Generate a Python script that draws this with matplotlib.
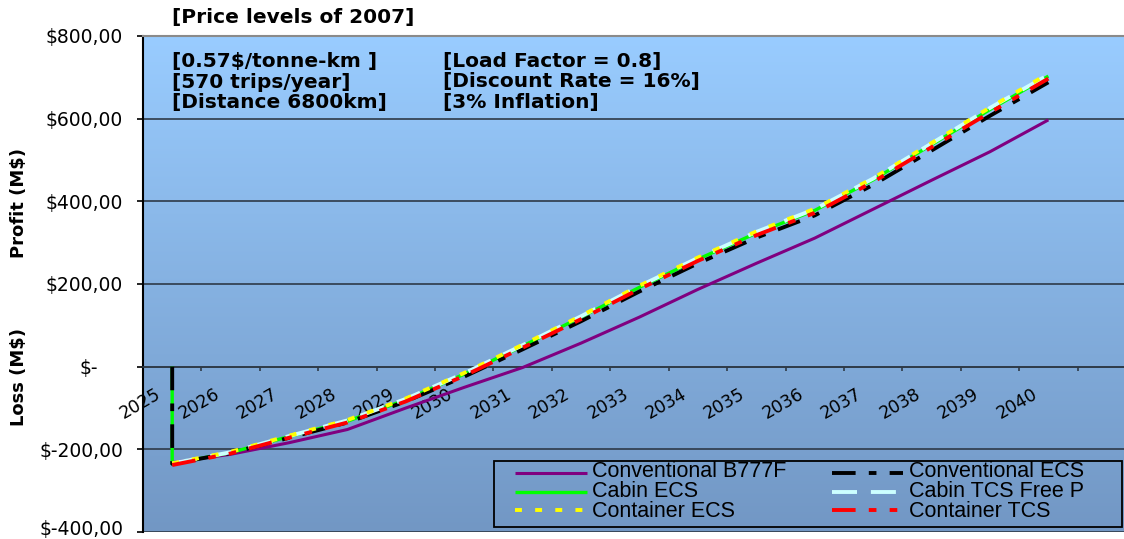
import matplotlib
matplotlib.use("Agg")
import matplotlib.pyplot as plt
import numpy as np
from matplotlib.transforms import ScaledTranslation
from matplotlib.lines import Line2D
from matplotlib.patches import Rectangle

# ---------------- data ----------------
years = [2025, 2026, 2027, 2028, 2029, 2030, 2031, 2032, 2033, 2034, 2035,
         2036, 2037, 2038, 2039, 2040]
year_labels = [str(y) for y in years]

# Conventional B777F (purple)
conventional_b777f = [-232, -212, -184, -152, -100, -50, -2, 57, 120, 187, 250,
                      311, 381, 451, 520, 597]
# series that open with a drop from $- to the first-year loss in 2025
open_year = 2025
conventional_ecs_open = 0
cabin_ecs_open = 0
conventional_ecs = [-235, -209, -172, -135, -84, -24, 42, 110, 182, 250, 312,
                    366, 440, 523, 607, 688]
cabin_ecs = [-235, -208, -169, -132, -80, -18, 50, 120, 192, 260, 323,
             378, 452, 537, 622, 703]
cabin_tcs_free_p = [-234, -207, -168, -130, -78, -16, 52, 122, 195, 263, 326,
                    381, 455, 540, 626, 706]
container_ecs = [-234, -206, -167, -129, -77, -15, 53, 123, 196, 264, 327,
                 382, 456, 541, 627, 709]
container_tcs = [-238, -210, -172, -135, -84, -22, 46, 115, 188, 256, 318,
                 372, 447, 531, 615, 697]

y_ticks = [-400, -200, 0, 200, 400, 600, 800]
y_tick_labels = ["$-400,00", "$-200,00", "$-", "$200,00", "$400,00", "$600,00", "$800,00"]

title = "[Price levels of 2007]"
notes_left = ["[0.57$/tonne-km ]", "[570 trips/year]", "[Distance 6800km]"]
notes_right = ["[Load Factor = 0.8]", "[Discount Rate = 16%]", "[3% Inflation]"]

# ---------------- figure ----------------
plt.rcParams["lines.scale_dashes"] = False
plt.rcParams["font.family"] = ["DejaVu Sans"]

W, H = 1124, 539
fig = plt.figure(figsize=(W / 100, H / 100), dpi=100)
fig.patch.set_facecolor("white")


def fx(px):
    return px / W


def fy(py):
    return 1 - py / H


ax = fig.add_axes([fx(143), fy(532), fx(1136) - fx(143), fy(36) - fy(532)])

# gradient background
top = np.array([153, 204, 255]) / 255.0
bot = np.array([114, 151, 196]) / 255.0
t = np.linspace(0, 1, 256)[:, None]
grad = top + (bot - top) * t
ax.imshow(grad[:, None, :], extent=[0, 1, 0, 1], transform=ax.transAxes,
          aspect="auto", zorder=-1, interpolation="bilinear")

ax.set_xlim(2024.5, 2041.5)
ax.set_ylim(-400, 800)

grid_col = "#2E3A48"
ax.set_axisbelow(True)
ax.yaxis.grid(True, color=grid_col, lw=1.2)
ax.xaxis.grid(False)

# spines
ax.spines["bottom"].set_position(("data", 0))
ax.spines["bottom"].set_color(grid_col)
ax.spines["bottom"].set_linewidth(1.2)
ax.spines["left"].set_color("black")
ax.spines["left"].set_linewidth(1.5)
ax.spines["top"].set_color("#8a8a8a")
ax.spines["top"].set_linewidth(1.5)
ax.spines["right"].set_visible(False)

# x ticks: boundaries (major) + labels at category centers (minor)
ax.set_xticks([y + 0.5 for y in years])
ax.set_xticklabels([])
ax.set_xticks(years, minor=True)
ax.set_xticklabels(year_labels, minor=True, rotation=30, ha="right", va="top",
                   fontsize=12.5)
ax.tick_params(axis="x", which="major", direction="out", length=3, width=1.2,
               color=grid_col)
ax.tick_params(axis="x", which="minor", length=0, pad=13)
shift = ScaledTranslation(-8 / 100, 0, fig.dpi_scale_trans)
for lab in ax.get_xticklabels(minor=True):
    lab.set_transform(lab.get_transform() + shift)

# y ticks
ax.set_yticks(y_ticks)
ax.set_yticklabels(y_tick_labels, fontsize=13.5)
ax.tick_params(axis="y", direction="out", length=4.3, width=1.2, pad=10,
               color="black")
zshift = ScaledTranslation(-25 / 100, 0, fig.dpi_scale_trans)
bshift = ScaledTranslation(0, 4 / 100, fig.dpi_scale_trans)
for lab in ax.get_yticklabels():
    if lab.get_text() == "$-":
        lab.set_transform(lab.get_transform() + zshift)
    if lab.get_text() == "$-400,00":
        lab.set_transform(lab.get_transform() + bshift)

# ---------------- series ----------------
styles = {
    "Conventional B777F": dict(color="#800080", lw=2.2, ls="-"),
    "Conventional ECS": dict(color="#000000", lw=2.8, ls=(0, (17, 9.5, 5.5, 9.5))),
    "Cabin ECS": dict(color="#00FF00", lw=2.4, ls="-"),
    "Cabin TCS Free P": dict(color="#CCFFFF", lw=2.8, ls=(0, (18, 10))),
    "Container ECS": dict(color="#FFFF00", lw=2.8, ls=(0, (5, 9.5))),
    "Container TCS": dict(color="#FF0000", lw=2.8, ls=(0, (17, 9.5, 5.5, 9.5, 5.5, 9.5))),
}

draw = [
    ("Conventional B777F", years, conventional_b777f),
    ("Cabin ECS", [open_year] + years, [cabin_ecs_open] + cabin_ecs),
    ("Conventional ECS", [open_year] + years, [conventional_ecs_open] + conventional_ecs),
    ("Cabin TCS Free P", years, cabin_tcs_free_p),
    ("Container ECS", years, container_ecs),
    ("Container TCS", years, container_tcs),
]
for z, (name, xs, ys) in enumerate(draw):
    st = styles[name]
    ax.plot(xs, ys, color=st["color"], lw=st["lw"], linestyle=st["ls"],
            solid_capstyle="butt", dash_capstyle="butt", zorder=3 + z)

# ---------------- texts ----------------
fig.text(fx(172), fy(17), title, fontsize=14.5, fontweight="bold",
         ha="left", va="center")
fig.text(fx(172), fy(82), "\n".join(notes_left), fontsize=14.5, fontweight="bold",
         ha="left", va="center", linespacing=1.11)
fig.text(fx(443), fy(82), "\n".join(notes_right), fontsize=14.5, fontweight="bold",
         ha="left", va="center", linespacing=1.11)

fig.text(fx(19), fy(203), "Profit (M$)", rotation=90, fontsize=13,
         fontweight="bold", ha="center", va="center")
fig.text(fx(19), fy(377), "Loss (M$)", rotation=90, fontsize=13,
         fontweight="bold", ha="center", va="center")

# ---------------- legend ----------------
rect = Rectangle((fx(494), fy(527)), fx(1122) - fx(494), fy(461) - fy(527),
                 transform=fig.transFigure, fill=False, ec="black", lw=1.3)
fig.add_artist(rect)
legend_cols = [["Conventional B777F", "Cabin ECS", "Container ECS"],
               ["Conventional ECS", "Cabin TCS Free P", "Container TCS"]]
row_y = [473, 491.5, 510]
cols = [(515, 587, 592), (832, 903, 909)]
for c, names in enumerate(legend_cols):
    x0, x1, tx = cols[c]
    for r, name in enumerate(names):
        st = styles[name]
        ln = Line2D([fx(x0), fx(x1)], [fy(row_y[r])] * 2, transform=fig.transFigure,
                    color=st["color"], lw=st["lw"], linestyle=st["ls"],
                    solid_capstyle="butt", dash_capstyle="butt")
        fig.add_artist(ln)
    fig.text(fx(tx), fy(row_y[1]), "\n".join(names), fontsize=15.5,
             family=["Liberation Sans", "DejaVu Sans"], ha="left", va="center",
             linespacing=0.92)

fig.savefig("out.png", dpi=100)
